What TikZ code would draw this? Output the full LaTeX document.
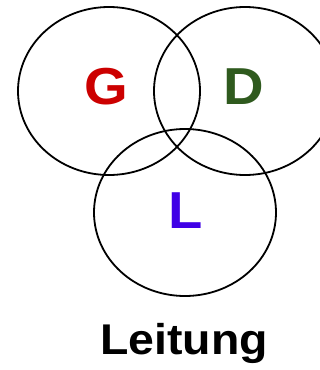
\documentclass[tikz,border=0pt]{standalone}
\usepackage{fontspec}
\setmainfont{Liberation Sans}
\usepackage{tikz}
\usetikzlibrary{positioning,shapes.geometric}

\definecolor{gred}{RGB}{204,0,0}
\definecolor{dgreen}{RGB}{47,90,30}
\definecolor{lblue}{RGB}{64,0,230}

\begin{document}
\begin{tikzpicture}[
    x=1pt, y=-1pt,
    set/.style={
        draw,
        line width=1.8pt
    },
    letter/.style={
        font=\fontsize{52}{52}\selectfont\bfseries,
        xscale=1.08,
        inner sep=0pt
    },
    caption/.style={
        font=\fontsize{43}{43}\selectfont\bfseries,
        xscale=1.08,
        inner sep=0pt,
        anchor=base
    }
]

\clip (0,0) rectangle (320,370);

\node[set, ellipse, minimum width=182pt, minimum height=168pt] (g) at (109,91) {};
\node[set, ellipse, minimum width=182pt, minimum height=168pt] (d) at (245,91) {};
\node[set, ellipse, minimum width=182pt, minimum height=167pt] (l) at (185,212.5) {};

\node[letter, text=gred] (glabel) at (g.center) [xshift=-2pt, yshift=4pt] {G};
\node[letter, text=dgreen] (dlabel) at (d.center) [xshift=-1.5pt, yshift=4pt] {D};
\node[letter, text=lblue] (llabel) at (l.center) [xshift=1pt, yshift=2pt] {L};

\node[caption] (leitung) at (184,354) {Leitung};

\end{tikzpicture}
\end{document}
